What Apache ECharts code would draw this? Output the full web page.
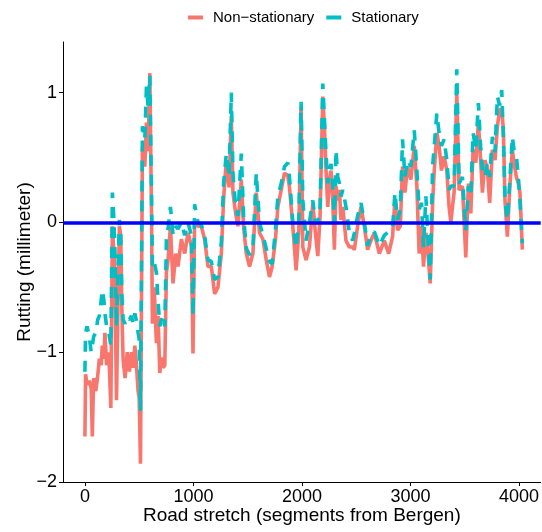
<!DOCTYPE html>
<html>
<head>
<meta charset="utf-8">
<style>
  html, body { margin: 0; padding: 0; background: #fff; }
  #chart { width: 542px; height: 532px; }
</style>
<script src="https://cdn.jsdelivr.net/npm/echarts@6/dist/echarts.min.js"></script>
</head>
<body>
<div id="chart"></div>
<script>
// Road segment index (distance from Bergen)
const segments = [
  0, 6, 20, 40, 58, 68, 80, 100, 118, 133, 150, 160, 175, 184, 200, 220, 239, 253, 265, 276,
  291, 305, 318, 330, 340, 352, 370, 390, 410, 429, 445, 460, 475, 490, 500, 512, 530, 552, 567, 582,
  598, 613, 622, 638, 659, 674, 690, 705, 720, 736, 751, 766, 788, 812, 837, 858, 889, 920, 950, 981,
  996, 1011, 1042, 1073, 1103, 1134, 1165, 1195, 1226, 1257, 1278, 1303, 1328, 1349, 1364, 1389, 1410, 1441, 1462, 1487,
  1517, 1548, 1579, 1609, 1640, 1671, 1701, 1726, 1756, 1778, 1809, 1839, 1870, 1885, 1916, 1946, 1971, 1992, 2008, 2038,
  2069, 2100, 2124, 2146, 2167, 2192, 2207, 2222, 2238, 2253, 2268, 2284, 2299, 2314, 2330, 2345, 2360, 2376, 2406, 2437,
  2467, 2483, 2513, 2544, 2575, 2605, 2636, 2667, 2713, 2759, 2799, 2835, 2857, 2881, 2906, 2927, 2949, 2973, 3004, 3035,
  3059, 3080, 3102, 3120, 3142, 3157, 3182, 3204, 3218, 3243, 3264, 3286, 3310, 3335, 3356, 3372, 3402, 3427, 3448, 3479,
  3510, 3534, 3556, 3577, 3602, 3626, 3648, 3663, 3687, 3709, 3730, 3755, 3779, 3801, 3822, 3841, 3856, 3871, 3893, 3914,
  3939, 3954, 3976, 3994, 4009, 4031
];

// Rutting estimate, non-stationary model (mm)
const nonStationary = [
  -1.65, -1.17, -1.25, -1.22, -1.28, -1.65, -1.20, -1.30, -1.18, -1.05, -1.10, -0.95, -1.05, -0.85, -1.10, -1.00, -1.43, -0.03, -0.20, -0.39,
  -1.37, -0.60, -0.03, -0.10, -0.65, -1.06, -1.20, -1.00, -1.15, -1.00, -1.12, -0.95, -1.10, -1.30, -1.35, -1.86, 0.58, 0.43, 0.77, 0.55,
  1.15, 0.12, -0.78, -0.50, -0.93, -0.72, -1.16, -1.04, -1.12, -1.10, -0.39, -0.29, -0.03, -0.47, -0.24, -0.34, -0.13, -0.24, -0.08, -0.18,
  -1.01, 0.02, -0.03, -0.03, -0.13, -0.34, -0.34, -0.55, -0.50, -0.24, 0.18, 0.48, 0.27, 0.82, 0.23, 0.07, -0.03, 0.33, -0.03, -0.24,
  -0.34, -0.24, 0.23, -0.08, -0.13, -0.29, -0.42, -0.34, -0.13, 0.12, 0.25, 0.38, 0.36, 0.27, -0.03, -0.37, -0.08, 0.89, -0.19, -0.29,
  -0.19, 0.15, -0.08, -0.26, 0.05, 0.97, 0.74, 0.40, 0.12, 0.33, 0.40, 0.17, -0.21, 0.28, 0.17, 0.25, 0.02, 0.12, -0.14, -0.19,
  -0.19, -0.21, -0.03, 0.12, -0.03, -0.21, -0.14, -0.08, -0.24, -0.14, -0.24, -0.11, 0.18, -0.06, -0.03, 0.43, 0.23, 0.43, 0.33, 0.59,
  0.28, -0.24, -0.03, -0.34, -0.08, -0.19, -0.47, 0.15, 0.38, 0.69, 0.59, 0.40, 0.51, 0.40, 0.12, 0.00, 0.23, 1.00, 0.25, 0.28,
  -0.27, 0.30, 0.07, 0.56, 0.46, 0.77, 0.46, 0.23, 0.48, 0.41, 0.15, 0.56, 0.48, 0.74, 0.87, 0.87, 0.72, 0.17, -0.11, 0.25,
  0.56, 0.46, 0.35, 0.30, 0.23, -0.21
];

// Rutting estimate, stationary model (mm)
const stationary = [
  -1.15, -0.85, -0.80, -0.88, -1.00, -0.95, -0.88, -0.85, -0.75, -0.72, -0.60, -0.52, -0.60, -0.70, -0.80, -0.85, -0.95, 0.23, 0.05, -0.20,
  -0.80, -0.35, 0.02, -0.10, -0.55, -0.75, -0.78, -0.73, -0.75, -0.72, -0.78, -0.70, -0.76, -0.85, -0.90, -1.45, 0.74, 0.64, 1.05, 0.90,
  1.13, 0.25, -0.34, -0.30, -0.39, -0.60, -0.80, -0.75, -0.72, -0.80, -0.13, -0.05, 0.12, -0.10, -0.03, -0.05, 0.00, -0.10, 0.00, -0.10,
  -0.72, 0.14, 0.00, -0.02, -0.10, -0.29, -0.30, -0.44, -0.42, -0.15, 0.30, 0.53, 0.35, 1.00, 0.38, 0.12, 0.05, 0.53, 0.05, -0.20,
  -0.25, -0.20, 0.38, 0.00, -0.10, -0.20, -0.30, -0.32, -0.05, 0.20, 0.30, 0.43, 0.46, 0.35, 0.00, -0.20, 0.00, 0.93, 0.17, -0.14,
  0.00, 0.17, 0.00, 0.00, 0.10, 1.07, 0.80, 0.53, 0.30, 0.40, 0.45, 0.30, 0.00, 0.56, 0.35, 0.30, 0.20, 0.25, 0.12, -0.08,
  -0.14, -0.08, 0.05, 0.15, 0.00, -0.18, -0.10, -0.07, -0.18, -0.10, -0.07, -0.05, 0.23, 0.02, 0.10, 0.64, 0.35, 0.48, 0.43, 0.71,
  0.40, 0.10, 0.15, -0.19, 0.20, -0.05, -0.44, 0.43, 0.43, 0.84, 0.69, 0.59, 0.64, 0.48, 0.25, 0.28, 0.28, 1.18, 0.30, 0.35,
  -0.06, 0.28, 0.20, 0.69, 0.56, 0.92, 0.56, 0.40, 0.35, 0.46, 0.35, 0.66, 0.54, 0.97, 0.90, 1.02, 0.66, 0.17, 0.02, 0.30,
  0.66, 0.56, 0.51, 0.35, 0.17, -0.16
];

const xTicks = [0, 1000, 2000, 3000, 4000];
const yTicks = [-2, -1, 0, 1];

const NS_NAME = 'Non\u2212stationary';
const ST_NAME = 'Stationary';

const pairs = (ys) => segments.map((x, i) => [x, ys[i]]);
const minusFmt = (v) => (v < 0 ? '\u2212' + Math.abs(v) : String(v));

const FONT = '"Liberation Sans", Arial, Helvetica, sans-serif';

const chart = echarts.init(document.getElementById('chart'), null, { renderer: 'canvas' });

chart.setOption({
  animation: false,
  backgroundColor: '#ffffff',
  textStyle: { fontFamily: FONT },
  legend: {
    data: [NS_NAME, ST_NAME],
    left: 183,
    top: 5,
    icon: 'rect',
    itemWidth: 15,
    itemHeight: 4,
    itemGap: 12,
    textStyle: { fontFamily: FONT, fontSize: 15, color: '#000', padding: [0, 0, 0, 5] }
  },
  grid: { left: 63, right: 1, top: 42, bottom: 50, containLabel: false },
  xAxis: {
    type: 'value',
    min: -202,
    max: 4200,
    name: 'Road stretch (segments from Bergen)',
    nameLocation: 'middle',
    nameGap: 24,
    nameMoveOverlap: false,
    nameTextStyle: { fontFamily: FONT, fontSize: 19, color: '#000' },
    axisLine: { show: true, onZero: false, lineStyle: { color: '#000', width: 1 } },
    axisTick: { show: true, length: 4, customValues: xTicks, lineStyle: { color: '#000', width: 1 } },
    axisLabel: { customValues: xTicks, formatter: (v) => String(v), fontFamily: FONT, fontSize: 18, color: '#000', margin: 6 },
    splitLine: { show: false }
  },
  yAxis: {
    type: 'value',
    min: -2,
    max: 1.39,
    name: 'Rutting (millimeter)',
    nameLocation: 'middle',
    nameGap: 29,
    nameMoveOverlap: false,
    nameRotate: 90,
    nameTextStyle: { fontFamily: FONT, fontSize: 19, color: '#000' },
    axisLine: { show: true, onZero: false, lineStyle: { color: '#000', width: 1 } },
    axisTick: { show: true, length: 4, customValues: yTicks, lineStyle: { color: '#000', width: 1 } },
    axisLabel: { customValues: yTicks, formatter: minusFmt, fontFamily: FONT, fontSize: 18, color: '#000', margin: 6 },
    splitLine: { show: false }
  },
  series: [
    {
      name: NS_NAME,
      type: 'line',
      data: pairs(nonStationary),
      showSymbol: false,
      symbol: 'none',
      color: '#F8766D',
      lineStyle: { color: '#F8766D', width: 3.6 },
      z: 2
    },
    {
      name: ST_NAME,
      type: 'line',
      data: pairs(stationary),
      showSymbol: false,
      symbol: 'none',
      color: '#00BFC4',
      lineStyle: { color: '#00BFC4', width: 3.6, type: [11, 9] },
      z: 3
    },
    {
      name: 'zero',
      type: 'line',
      data: [],
      z: 5,
      markLine: {
        silent: true,
        symbol: 'none',
        label: { show: false },
        lineStyle: { color: '#0000FF', width: 3.5, type: 'solid' },
        data: [{ yAxis: 0 }]
      }
    }
  ]
});
</script>
</body>
</html>
